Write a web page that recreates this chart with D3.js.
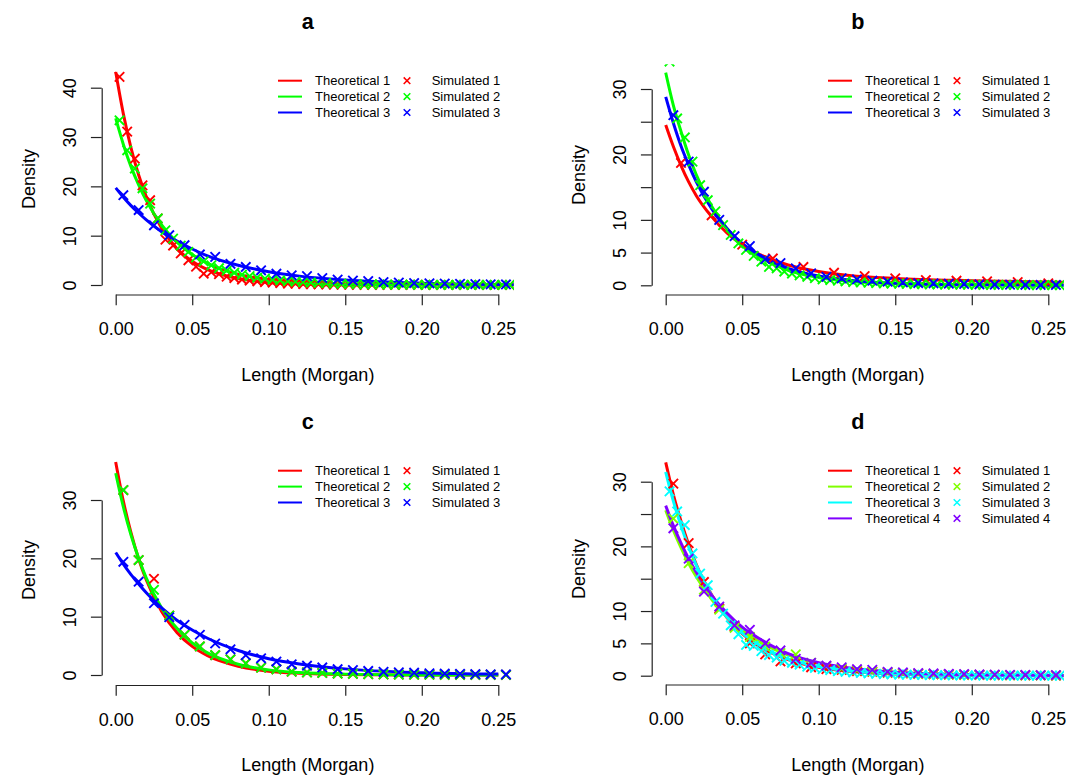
<!DOCTYPE html>
<html>
<head>
<meta charset="utf-8">
<script src="https://cdn.jsdelivr.net/npm/d3@7"></script>
<style>
  html, body { margin: 0; padding: 0; background: #fff; }
  svg { display: block; font-family: "Liberation Sans", Arial, Helvetica, sans-serif; }
</style>
</head>
<body>
<svg id="chart" width="1083" height="775"></svg>
<script>
// ---------------- DATA ----------------
const panelNames = ["a", "b", "c", "d"];
const xLabel = "Length (Morgan)";
const yLabel = "Density";
const xTickValues = [0, 0.05, 0.10, 0.15, 0.20, 0.25];
const xTickLabels = ["0.00", "0.05", "0.10", "0.15", "0.20", "0.25"];
const yTicksA = [0, 10, 20, 30, 40];
const yTickLabelsA = ["0", "10", "20", "30", "40"];
const yTicksB = [0, 5, 10, 15, 20, 25, 30];
const yTickLabelsB = ["0", "5", "10", "", "20", "", "30"];
const yTicksC = [0, 10, 20, 30];
const yTickLabelsC = ["0", "10", "20", "30"];
const yTicksD = [0, 5, 10, 15, 20, 25, 30];
const yTickLabelsD = ["0", "5", "10", "", "20", "", "30"];

const theoNames = ["Theoretical 1", "Theoretical 2", "Theoretical 3", "Theoretical 4"];
const simNames = ["Simulated 1", "Simulated 2", "Simulated 3", "Simulated 4"];
const colorsABC = ["#FF0000", "#00FF00", "#0000FF"];
const colorsD = ["#FF0000", "#80FF00", "#00FFFF", "#8000FF"];

// x positions for theoretical curves
const thX = [0, 0.005, 0.01, 0.015, 0.02, 0.03, 0.04, 0.05, 0.06, 0.08, 0.10, 0.12, 0.15, 0.20, 0.26];
const thXc = [0, 0.005, 0.01, 0.015, 0.02, 0.03, 0.04, 0.05, 0.06, 0.08, 0.10, 0.12, 0.15, 0.20, 0.25];
// x positions for simulated bins
const simX5 = [0.0025,0.0075,0.0125,0.0175,0.0225,0.0275,0.0325,0.0375,0.0425,0.0475,0.0525,0.0575,0.0625,0.0675,0.0725,0.0775,0.0825,0.0875,0.0925,0.0975,0.1025,0.1075,0.1125,0.1175,0.1225,0.1275,0.1325,0.1375,0.1425,0.1475,0.1525,0.1575,0.1625,0.1675,0.1725,0.1775,0.1825,0.1875,0.1925,0.1975,0.2025,0.2075,0.2125,0.2175,0.2225,0.2275,0.2325,0.2375,0.2425,0.2475,0.2525,0.2575];
const simX10 = [0.005,0.015,0.025,0.035,0.045,0.055,0.065,0.075,0.085,0.095,0.105,0.115,0.125,0.135,0.145,0.155,0.165,0.175,0.185,0.195,0.205,0.215,0.225,0.235,0.245,0.255];
const simX20 = [0.01,0.03,0.05,0.07,0.09,0.11,0.13,0.15,0.17,0.19,0.21,0.23,0.25];

// Panel a
const aTheo1 = [43.2,34.7,27.8,22.3,17.9,11.5,7.4,4.8,3.1,1.3,0.53,0.22,0.06,0.01,0];
const aTheo2 = [33.8,28.5,24.0,20.3,17.1,12.2,8.7,6.2,4.4,2.2,1.1,0.57,0.2,0.04,0.01];
const aTheo3 = [19.7,17.8,16.1,14.6,13.2,10.8,8.9,7.3,5.9,4.0,2.7,1.8,1.0,0.37,0.11];
const aSim1 = [42.2,31.1,25.6,20.2,17.2,13.5,9.2,8.0,6.4,5.0,3.7,2.3,2.6,2.2,1.7,1.4,1.1,0.9,0.75,0.6,0.5,0.4,0.3,0.28,0.2,0.18,0.14,0.12,0.09,0.08,0.06,0.05,0.04,0.03,0.03,0.02,0.02,0.01,0.01,0.01,0.01,0,0,0,0,0,0,0,0,0,0,0];
const aSim2 = [33.4,27.3,23.6,19.6,16.5,13.5,11.1,9.4,8.0,6.7,5.6,4.8,4.0,3.4,2.9,2.5,2.1,1.8,1.5,1.3,1.1,0.95,0.8,0.68,0.58,0.5,0.42,0.36,0.3,0.25,0.21,0.18,0.15,0.13,0.11,0.09,0.08,0.07,0.06,0.05,0.04,0.035,0.03,0.025,0.02,0.02,0.015,0.01,0.01,0.01,0.01,0.01];
const aSim3 = [18.2,15.2,12.1,10.1,8.06,6.2,5.7,4.3,3.65,2.98,2.3,1.97,1.8,1.4,1.1,0.9,0.8,0.6,0.5,0.4,0.35,0.3,0.25,0.2,0.15,0.12];

// Panel b
const bTheo1 = [24.5,21.2,18.3,15.8,13.7,10.5,8.0,6.2,4.9,3.1,2.1,1.5,1.05,0.7,0.45];
const bTheo2 = [32.5,27.5,23.5,19.9,16.9,12.1,8.7,6.3,4.5,2.3,1.2,0.6,0.25,0.07,0.02];
const bTheo3 = [28.8,24.8,21.3,18.4,15.8,11.7,8.7,6.4,4.8,2.6,1.43,0.79,0.32,0.07,0.01];
const bSim1 = [18.7,10.7,6.2,4.1,2.8,1.93,1.42,1.07,0.8,0.7,0.6,0.5,0.3];
const bSim2 = [34.2,25.5,22.6,18.9,15.3,13.0,11.3,9.2,7.7,6.4,5.4,4.5,3.6,2.8,2.6,2.1,1.8,1.5,1.3,1.1,0.9,0.8,0.7,0.6,0.5,0.45,0.4,0.35,0.3,0.27,0.24,0.21,0.19,0.17,0.15,0.13,0.12,0.11,0.1,0.09,0.08,0.07,0.07,0.06,0.06,0.05,0.05,0.04,0.04,0.04,0.03,0.03];
const bSim3 = [26.0,18.9,14.3,10.0,7.5,6.0,4.0,3.4,2.6,1.83,1.3,1.07,0.9,0.7,0.55,0.45,0.35,0.3,0.25,0.2,0.15,0.12,0.1,0.08,0.06,0.05];

// Panel c
const cTheo1 = [36.5,29.8,24.4,19.9,16.3,10.9,7.3,4.9,3.3,1.5,0.65,0.29,0.09,0.01,0];
const cTheo2 = [34.6,28.8,24.0,20.0,16.6,11.5,8.0,5.5,3.8,1.85,0.88,0.42,0.15,0.02,0];
const cTheo3 = [21.0,19.0,17.2,15.6,14.1,11.5,9.4,7.7,6.3,4.2,2.8,1.9,1.05,0.4,0.15];
const cSim1 = [31.7,19.7,16.5,10.2,6.9,4.9,3.4,2.7,2.0,1.26,0.97,0.57,0.45,0.35,0.25,0.2,0.15,0.1,0.08,0.06,0.05,0.04,0.03,0.02,0.02,0.01];
const cSim2 = [31.7,19.7,14.6,10.2,6.9,4.9,3.4,2.7,2.0,1.26,0.97,0.57,0.45,0.35,0.25,0.2,0.15,0.1,0.08,0.06,0.05,0.04,0.03,0.02,0.02,0.01];
const cSim3 = [19.4,16.0,12.3,9.9,8.6,6.9,5.4,4.4,3.4,2.86,2.3,1.83,1.6,1.3,1.0,0.85,0.7,0.55,0.45,0.4,0.3,0.25,0.2,0.15,0.12,0.1];

// Panel d
const dTheo1 = [33.0,28.0,23.9,20.3,17.2,12.5,9.0,6.5,4.7,2.5,1.3,0.68,0.25,0.05,0];
const dTheo2 = [25.6,22.5,19.8,17.4,15.3,11.8,9.1,7.0,5.4,3.2,1.9,1.1,0.5,0.14,0.03];
const dTheo3 = [31.5,27.0,23.2,19.9,17.1,12.4,9.1,6.6,4.9,2.6,1.4,0.74,0.3,0.06,0.01];
const dTheo4 = [26.3,23.2,20.5,18.1,16.0,12.4,9.7,7.5,5.9,3.4,2.0,1.2,0.55,0.15,0.03];
const dSim1 = [29.7,20.5,14.5,10.4,7.6,5.0,3.3,2.2,1.9,1.3,1.0,0.9,0.7,0.6,0.45,0.35,0.28,0.22,0.18,0.14,0.11,0.09,0.07,0.05,0.04,0.03];
const dSim2 = [24.3,17.4,13.3,10.2,7.4,6.0,4.5,3.5,3.3,2.0,1.5,1.1,0.85,0.65,0.5,0.38,0.3,0.23,0.18,0.14,0.11,0.08,0.06,0.05,0.04,0.03];
const dSim3 = [28.5,25.4,23.3,18.9,15.8,14.0,11.4,9.6,7.8,6.4,4.75,4.6,3.8,3.2,2.8,2.3,2.0,1.7,1.4,1.2,1.0,0.85,0.7,0.6,0.5,0.42,0.36,0.3,0.25,0.21,0.18,0.15,0.13,0.11,0.09,0.08,0.07,0.06,0.05,0.04,0.04,0.03,0.03,0.02,0.02,0.02,0.02,0.01,0.01,0.01,0.01,0.01];
const dSim4 = [22.8,18.1,13.0,10.7,7.8,7.1,5.0,3.9,2.6,2.0,1.55,1.3,1.0,0.9,0.6,0.5,0.4,0.35,0.3,0.25,0.2,0.17,0.14,0.12,0.1,0.1];

// ---------------- LAYOUT ----------------
const panels = [
  { colors: colorsABC, yTicks: yTicksA, yTickLabels: yTickLabelsA,
    xr: [115.7, 498.3], yr: [285, 87.7], axisX: 101.7, axisY: 294.5, clip: [101.7, 63.8, 514, 294.5],
    titleY: 21, yLabY: 179, xLabY: 375, legY: 80.7,
    theo: [[thX, aTheo1], [thX, aTheo2], [thX, aTheo3]],
    sim: [[simX5, aSim1], [simX5, aSim2], [simX10, aSim3]] },
  { colors: colorsABC, yTicks: yTicksB, yTickLabels: yTickLabelsB,
    xr: [665.7, 1048.3], yr: [285.3, 89], axisX: 651.7, axisY: 294.5, clip: [651.7, 64.3, 1064, 294.5],
    titleY: 21, yLabY: 175, xLabY: 375, legY: 80.7,
    theo: [[thX, bTheo1], [thX, bTheo2], [thX, bTheo3]],
    sim: [[simX20, bSim1], [simX5, bSim2], [simX10, bSim3]] },
  { colors: colorsABC, yTicks: yTicksC, yTickLabels: yTickLabelsC,
    xr: [115.7, 498.3], yr: [675, 500], axisX: 101.7, axisY: 685, clip: [101.7, 456.6, 514, 685],
    titleY: 421, yLabY: 570, xLabY: 765, legY: 470.7,
    theo: [[thXc, cTheo1], [thXc, cTheo2], [thXc, cTheo3]],
    sim: [[simX10, cSim1], [simX10, cSim2], [simX10, cSim3]] },
  { colors: colorsD, yTicks: yTicksD, yTickLabels: yTickLabelsD,
    xr: [665.7, 1048.3], yr: [675.7, 481.7], axisX: 651.7, axisY: 684.5, clip: [651.7, 453.2, 1064, 684.5],
    titleY: 421, yLabY: 569, xLabY: 765, legY: 470.7,
    theo: [[thX, dTheo1], [thX, dTheo2], [thX, dTheo3], [thX, dTheo4]],
    sim: [[simX10, dSim1], [simX10, dSim2], [simX5, dSim3], [simX10, dSim4]] }
];

const svg = d3.select("#chart");
const defs = svg.append("defs");
const axisColor = "#222";
const tickLen = 10.8;
const fontTick = 18;

function crossPath(h) { return `M${-h},${-h}L${h},${h}M${-h},${h}L${h},${-h}`; }

panels.forEach((p, pi) => {
  const yTop = p.yTicks[p.yTicks.length - 1];
  const x = d3.scaleLinear().domain([0, 0.25]).range(p.xr);
  const y = d3.scaleLinear().domain([0, yTop]).range(p.yr);
  const g = svg.append("g");
  const midX = (p.clip[0] + p.clip[2]) / 2;

  // title
  g.append("text").attr("x", midX).attr("y", p.titleY)
    .attr("text-anchor", "middle").attr("dominant-baseline", "central")
    .style("font-size", "21.6px").style("font-weight", "bold").text(panelNames[pi]);

  // x axis
  const xAxis = d3.axisBottom(x).tickValues(xTickValues)
    .tickFormat((d, i) => xTickLabels[i]).tickSize(tickLen).tickSizeOuter(0);
  const gx = g.append("g").attr("transform", `translate(0,${p.axisY})`).call(xAxis);
  gx.select(".domain").attr("stroke", axisColor).attr("stroke-width", 1.2);
  gx.selectAll(".tick line").attr("stroke", axisColor).attr("stroke-width", 1.2);
  gx.selectAll(".tick text").attr("y", 34.5).attr("dy", null)
    .attr("dominant-baseline", "central").attr("fill", "#000")
    .style("font-size", fontTick + "px").style("font-family", "Liberation Sans, Arial, sans-serif");

  // y axis
  const yAxis = d3.axisLeft(y).tickValues(p.yTicks)
    .tickFormat((d, i) => p.yTickLabels[i]).tickSize(tickLen).tickSizeOuter(0);
  const gy = g.append("g").attr("transform", `translate(${p.axisX},0)`).call(yAxis);
  gy.select(".domain").attr("stroke", axisColor).attr("stroke-width", 1.2);
  gy.selectAll(".tick line").attr("stroke", axisColor).attr("stroke-width", 1.2);
  gy.selectAll(".tick text").attr("x", null).attr("dy", null)
    .attr("transform", "translate(-31.5,0) rotate(-90)")
    .attr("text-anchor", "middle").attr("dominant-baseline", "central").attr("fill", "#000")
    .style("font-size", fontTick + "px").style("font-family", "Liberation Sans, Arial, sans-serif");

  // axis titles
  g.append("text").attr("x", midX).attr("y", p.xLabY)
    .attr("text-anchor", "middle").attr("dominant-baseline", "central")
    .style("font-size", "18px").text(xLabel);
  g.append("text").attr("transform", `translate(${p.axisX - 72.5},${p.yLabY}) rotate(-90)`)
    .attr("text-anchor", "middle").attr("dominant-baseline", "central")
    .style("font-size", "18px").text(yLabel);

  // clip region (plot area)
  const cid = "clip" + pi;
  defs.append("clipPath").attr("id", cid).append("rect")
    .attr("x", p.clip[0]).attr("y", p.clip[1])
    .attr("width", p.clip[2] - p.clip[0]).attr("height", p.clip[3] - p.clip[1]);
  const plot = g.append("g").attr("clip-path", `url(#${cid})`);

  const line = d3.line().x(d => x(d[0])).y(d => y(d[1])).curve(d3.curveMonotoneX);

  // theoretical curves first
  p.theo.forEach((s, si) => {
    plot.append("path").datum(d3.zip(s[0], s[1])).attr("d", line)
      .attr("fill", "none").attr("stroke", p.colors[si]).attr("stroke-width", 3)
      .attr("stroke-linejoin", "round").attr("stroke-linecap", "butt");
  });
  // simulated points on top
  p.sim.forEach((s, si) => {
    plot.append("g").selectAll("path").data(d3.zip(s[0], s[1])).join("path")
      .attr("transform", d => `translate(${x(d[0])},${y(d[1])})`)
      .attr("d", crossPath(4.7))
      .attr("fill", "none").attr("stroke", p.colors[si]).attr("stroke-width", 1.9);
  });

  // legend
  const lg = g.append("g");
  p.theo.forEach((s, si) => {
    const ly = p.legY + si * 15.9;
    lg.append("line").attr("x1", p.axisX + 176.3).attr("x2", p.axisX + 200.3)
      .attr("y1", ly).attr("y2", ly).attr("stroke", p.colors[si]).attr("stroke-width", 2);
    lg.append("text").attr("x", p.axisX + 213.3).attr("y", ly)
      .attr("dominant-baseline", "central").style("font-size", "13px").text(theoNames[si]);
    lg.append("path").attr("transform", `translate(${p.axisX + 305.3},${ly})`)
      .attr("d", crossPath(3.3)).attr("fill", "none")
      .attr("stroke", p.colors[si]).attr("stroke-width", 1.5);
    lg.append("text").attr("x", p.axisX + 330).attr("y", ly)
      .attr("dominant-baseline", "central").style("font-size", "13px").text(simNames[si]);
  });
});
</script>
</body>
</html>
